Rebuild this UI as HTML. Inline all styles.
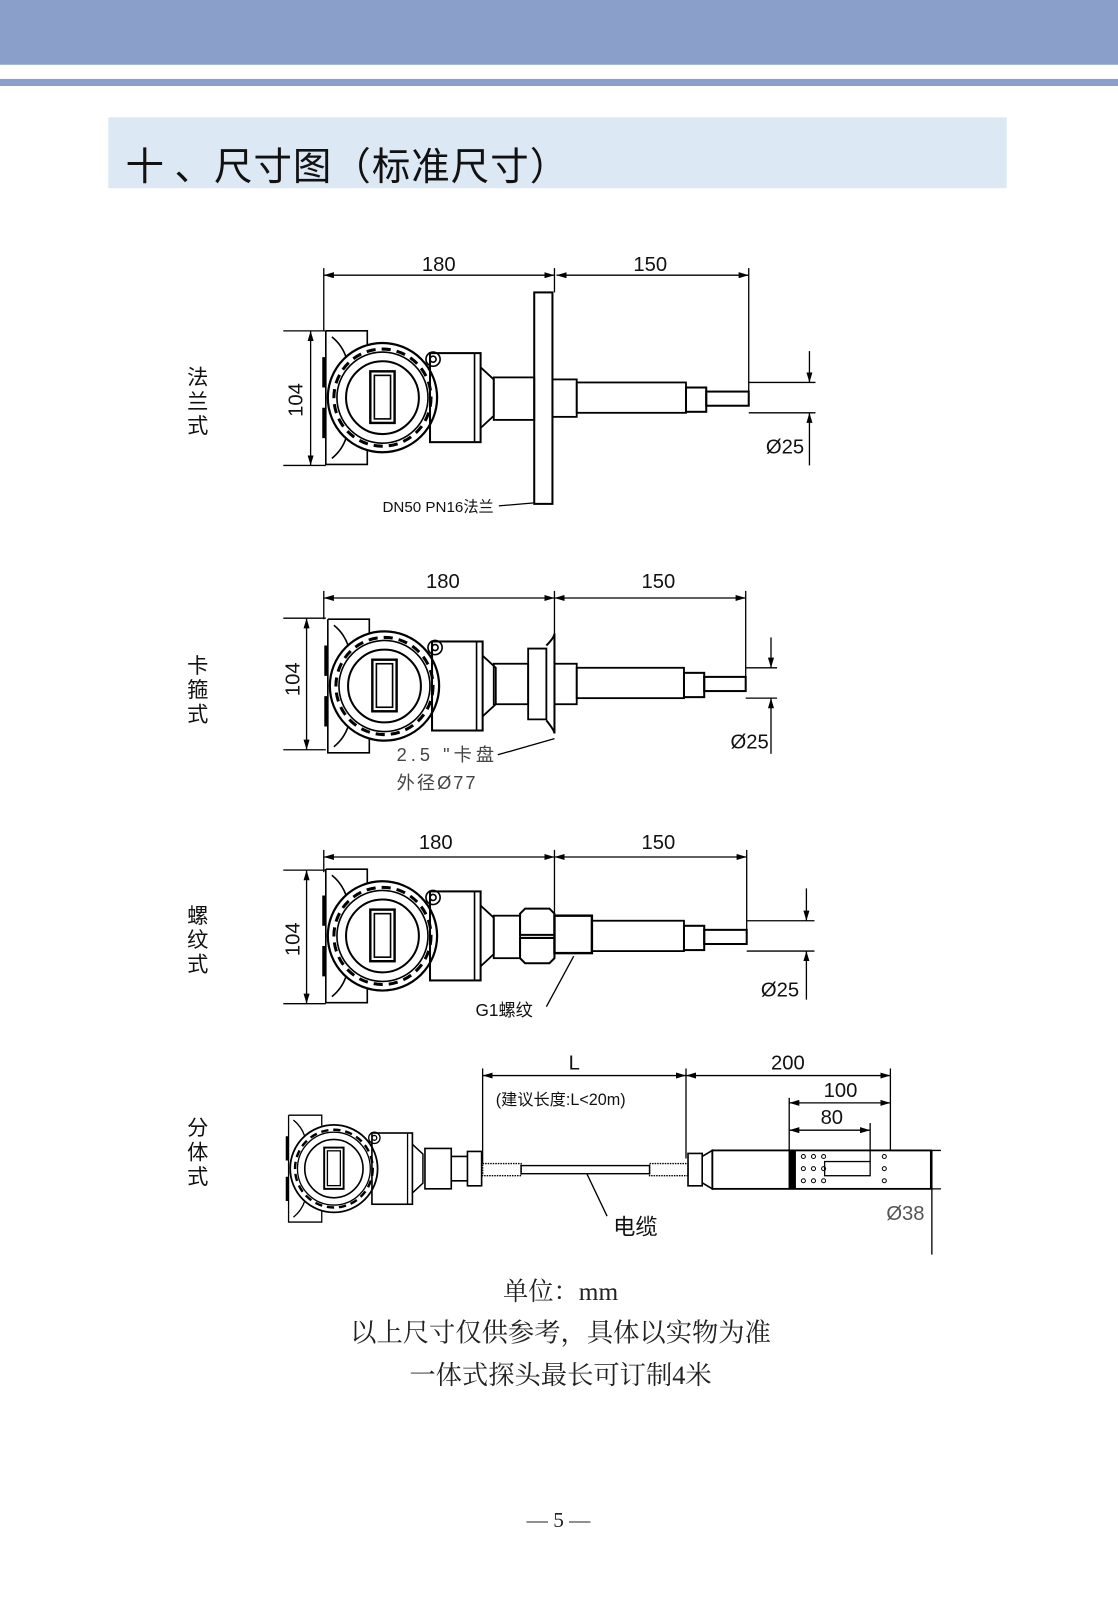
<!DOCTYPE html>
<html><head><meta charset="utf-8"><style>
html,body{margin:0;padding:0;background:#fff}
body{width:1118px;height:1587px;position:relative;overflow:hidden;font-family:"Liberation Sans","Noto Sans CJK SC",sans-serif}
#w{position:absolute;left:0;top:0;width:1105px;height:1569px;transform:scale(1.0118);transform-origin:0 0}
.t{position:absolute;white-space:nowrap}
</style></head><body><div id="w">
<div style="position:absolute;left:0;top:0;width:1118px;height:64px;background:#8a9fc9"></div>
<div style="position:absolute;left:0;top:78px;width:1118px;height:7px;background:#8a9fc9"></div>
<div style="position:absolute;left:107px;top:116px;width:888px;height:70px;background:#dde8f5"></div>
<div class="t" style="left:124px;top:134px;font-size:38px;color:#111;font-family:'Noto Sans CJK SC',sans-serif;letter-spacing:1px">十 、尺寸图（标准尺寸）</div>

<svg width="1118" height="1587" style="position:absolute;left:0;top:0" font-family="Liberation Sans, Noto Sans CJK SC, sans-serif">
<defs>
<marker id="a" viewBox="0 0 10 6" refX="10" refY="3" markerWidth="10" markerHeight="6" orient="auto-start-reverse" markerUnits="userSpaceOnUse"><path d="M0,0 L10,3 L0,6 z" fill="#000"/></marker>
<g id="head" fill="none" stroke="#000" stroke-width="1.6">
<path d="M-56,-66 H-15 V-52 M-56,-66 V66 H-15 V52"/>
<path d="M-50,-60 Q-40,-52 -36,-40 M-50,60 Q-40,52 -36,40" />
<path d="M-58,-40 V-10 M-58,10 V40" stroke-width="3"/>
<circle r="54" stroke-width="2.2"/>
<circle r="48" stroke-dasharray="9 6" stroke-width="3"/>
<circle r="45"/>
<circle r="36" stroke-width="2"/>
<rect x="-12" y="-26" width="24" height="51" stroke-width="2.4"/>
<rect x="-8" y="-22" width="16" height="43"/>
<circle cx="50" cy="-38" r="7"/><circle cx="50" cy="-38" r="3"/>
<rect x="47" y="-44" width="50" height="88" stroke-width="2"/>
<path d="M91,-44 V44"/>
<path d="M97,-30 L110,-18 V18 L97,30" stroke-width="1.8"/>
</g>
</defs>
<g fill="none" stroke="#000" stroke-width="1.3" font-size="20" >
<use href="#head" x="378" y="393"/>
<rect x="488" y="373" width="40" height="42" stroke-width="1.8"/>
<rect x="528" y="289" width="18" height="209" stroke-width="2"/>
<rect x="546" y="375" width="24" height="37" stroke-width="1.8"/>
<rect x="570" y="378" width="108" height="30" stroke-width="1.8"/>
<rect x="678" y="383" width="20" height="24" stroke-width="2"/>
<rect x="698" y="387" width="42" height="14" stroke-width="2"/>
<line x1="320" y1="265" x2="320" y2="327"/><line x1="548" y1="265" x2="548" y2="289"/><line x1="740" y1="265" x2="740" y2="398"/>
<line x1="320" y1="272" x2="548" y2="272" marker-start="url(#a)" marker-end="url(#a)"/>
<line x1="550" y1="272" x2="740" y2="272" marker-start="url(#a)" marker-end="url(#a)"/>
<line x1="280" y1="327" x2="322" y2="327"/><line x1="280" y1="460" x2="322" y2="460"/>
<line x1="307" y1="327" x2="307" y2="460" marker-start="url(#a)" marker-end="url(#a)"/>
<line x1="740" y1="378" x2="806" y2="378"/><line x1="740" y1="408" x2="806" y2="408"/>
<line x1="800" y1="347" x2="800" y2="378" marker-end="url(#a)"/><line x1="800" y1="460" x2="800" y2="408" marker-end="url(#a)"/>
<path d="M493,500 L528,497"/>
<use href="#head" x="380" y="678"/>
<rect x="488" y="656" width="34" height="40" stroke-width="1.8"/>
<path d="M522,641 H540 V711 H522 Z" stroke-width="1.8"/>
<path d="M540,638 Q548,630 548,626 V725 Q548,722 540,712" stroke-width="2"/>
<rect x="548" y="656" width="22" height="40" stroke-width="1.8"/>
<rect x="570" y="660" width="106" height="30" stroke-width="1.8"/>
<rect x="676" y="665" width="20" height="24" stroke-width="2"/>
<rect x="696" y="669" width="41" height="14" stroke-width="2"/>
<line x1="320" y1="584" x2="320" y2="612"/><line x1="548" y1="584" x2="548" y2="626"/><line x1="737" y1="584" x2="737" y2="682"/>
<line x1="320" y1="591" x2="548" y2="591" marker-start="url(#a)" marker-end="url(#a)"/>
<line x1="548" y1="591" x2="737" y2="591" marker-start="url(#a)" marker-end="url(#a)"/>
<line x1="280" y1="611" x2="322" y2="611"/><line x1="280" y1="741" x2="322" y2="741"/>
<line x1="303" y1="611" x2="303" y2="741" marker-start="url(#a)" marker-end="url(#a)"/>
<line x1="737" y1="660" x2="768" y2="660"/><line x1="737" y1="690" x2="768" y2="690"/>
<line x1="762" y1="630" x2="762" y2="660" marker-end="url(#a)"/><line x1="762" y1="745" x2="762" y2="690" marker-end="url(#a)"/>
<path d="M492,746 L548,730"/>
<use href="#head" x="378" y="925"/>
<rect x="488" y="905" width="26" height="42" stroke-width="1.8"/>
<path d="M514,903 L519,898 H543 L548,903 V924 H514 Z M514,927 H548 V947 L543,952 H519 L514,947 Z" stroke-width="2"/>
<rect x="548" y="905" width="37" height="37" stroke-width="2.4"/>
<rect x="585" y="910" width="91" height="30" stroke-width="1.8"/>
<rect x="676" y="915" width="20" height="24" stroke-width="2"/>
<rect x="696" y="919" width="42" height="14" stroke-width="2"/>
<line x1="320" y1="840" x2="320" y2="862"/><line x1="548" y1="840" x2="548" y2="905"/><line x1="738" y1="840" x2="738" y2="930"/>
<line x1="320" y1="847" x2="548" y2="847" marker-start="url(#a)" marker-end="url(#a)"/>
<line x1="548" y1="847" x2="738" y2="847" marker-start="url(#a)" marker-end="url(#a)"/>
<line x1="280" y1="860" x2="322" y2="860"/><line x1="280" y1="992" x2="322" y2="992"/>
<line x1="303" y1="860" x2="303" y2="992" marker-start="url(#a)" marker-end="url(#a)"/>
<line x1="738" y1="910" x2="805" y2="910"/><line x1="738" y1="940" x2="805" y2="940"/>
<line x1="797" y1="878" x2="797" y2="910" marker-end="url(#a)"/><line x1="797" y1="988" x2="797" y2="940" marker-end="url(#a)"/>
<path d="M540,995 L567,945"/>
<g transform="translate(330,1155) scale(0.8)"><use href="#head"/></g>
<path d="M420,1135 H446 V1175 H420 Z M446,1143 H462 V1167 H446 Z M462,1138 H476 V1172 H462 Z" stroke-width="1.6"/>
<rect x="477" y="1150" width="38" height="12" stroke-width="1.4" stroke-dasharray="1.5 1"/>
<rect x="515" y="1152" width="127" height="8" stroke-width="1.4"/>
<rect x="642" y="1150" width="38" height="12" stroke-width="1.4" stroke-dasharray="1.5 1"/>
<path d="M680,1140 H694 V1172 H680 Z M694,1143 L704,1137 V1175 L694,1169" stroke-width="1.6"/>
<rect x="704" y="1137" width="216" height="38" stroke-width="1.8"/>
<rect x="780" y="1137" width="6" height="38" fill="#000"/>
<rect x="815" y="1148" width="45" height="14"/>
<g fill="none" stroke-width="1"><circle cx="794" cy="1143" r="2"/><circle cx="804" cy="1143" r="2"/><circle cx="814" cy="1143" r="2"/><circle cx="794" cy="1155" r="2"/><circle cx="804" cy="1155" r="2"/><circle cx="814" cy="1155" r="2"/><circle cx="794" cy="1167" r="2"/><circle cx="804" cy="1167" r="2"/><circle cx="814" cy="1167" r="2"/><circle cx="874" cy="1143" r="2"/><circle cx="874" cy="1155" r="2"/><circle cx="874" cy="1167" r="2"/></g>
<line x1="477" y1="1056" x2="477" y2="1150"/><line x1="678" y1="1056" x2="678" y2="1145"/><line x1="880" y1="1056" x2="880" y2="1137"/>
<line x1="780" y1="1085" x2="780" y2="1137"/><line x1="860" y1="1110" x2="860" y2="1148"/>
<line x1="477" y1="1063" x2="678" y2="1063" marker-start="url(#a)" marker-end="url(#a)"/>
<line x1="678" y1="1063" x2="880" y2="1063" marker-start="url(#a)" marker-end="url(#a)"/>
<line x1="780" y1="1090" x2="880" y2="1090" marker-start="url(#a)" marker-end="url(#a)"/>
<line x1="780" y1="1117" x2="860" y2="1117" marker-start="url(#a)" marker-end="url(#a)"/>
<line x1="880" y1="1137" x2="930" y2="1137"/><line x1="880" y1="1175" x2="930" y2="1175"/>
<line x1="921" y1="1137" x2="921" y2="1240"/>
<path d="M580,1160 L600,1202"/>
</g>
<g fill="#111" font-size="20">
<text x="417" y="268">180</text><text x="626" y="268">150</text>
<text x="757" y="448">Ø25</text>
<text transform="translate(299,412) rotate(-90)">104</text>
<text x="421" y="581">180</text><text x="634" y="581">150</text>
<text x="722" y="740">Ø25</text>
<text transform="translate(296,688) rotate(-90)">104</text>
<text x="414" y="839">180</text><text x="634" y="839">150</text>
<text x="752" y="985">Ø25</text>
<text transform="translate(296,945) rotate(-90)">104</text>
<text x="562" y="1057">L</text><text x="762" y="1057">200</text><text x="814" y="1084">100</text><text x="811" y="1111">80</text>
<text x="876" y="1206" fill="#555">Ø38</text>
<text x="606" y="1220" font-size="22">电缆</text>
<text x="490" y="1092" font-size="16">(建议长度:L&lt;20m)</text>
<text x="378" y="506" font-size="15">DN50  PN16法兰</text>
<text x="392" y="752" font-size="18" fill="#444" letter-spacing="4">2.5 "卡盘</text>
<text x="392" y="780" font-size="18" fill="#444" letter-spacing="2">外径Ø77</text>
<text x="470" y="1004" font-size="17">G1螺纹</text>
</g>
<g fill="#111" font-size="21">
<text x="185" y="380">法</text><text x="185" y="404">兰</text><text x="185" y="428">式</text>
<text x="185" y="665">卡</text><text x="185" y="689">箍</text><text x="185" y="713">式</text>
<text x="185" y="912">螺</text><text x="185" y="936">纹</text><text x="185" y="960">式</text>
<text x="185" y="1122">分</text><text x="185" y="1146">体</text><text x="185" y="1170">式</text>
</g>
<g fill="#222" font-size="26" font-family="Liberation Serif, Noto Serif CJK SC, serif" text-anchor="middle">
<text x="554" y="1285" font-size="25">单位：mm</text>
<text x="554" y="1326">以上尺寸仅供参考，具体以实物为准</text>
<text x="554" y="1368">一体式探头最长可订制4米</text>
<text x="552" y="1509" font-size="21">— 5 —</text>
</g>
</svg>
</div></body></html>
